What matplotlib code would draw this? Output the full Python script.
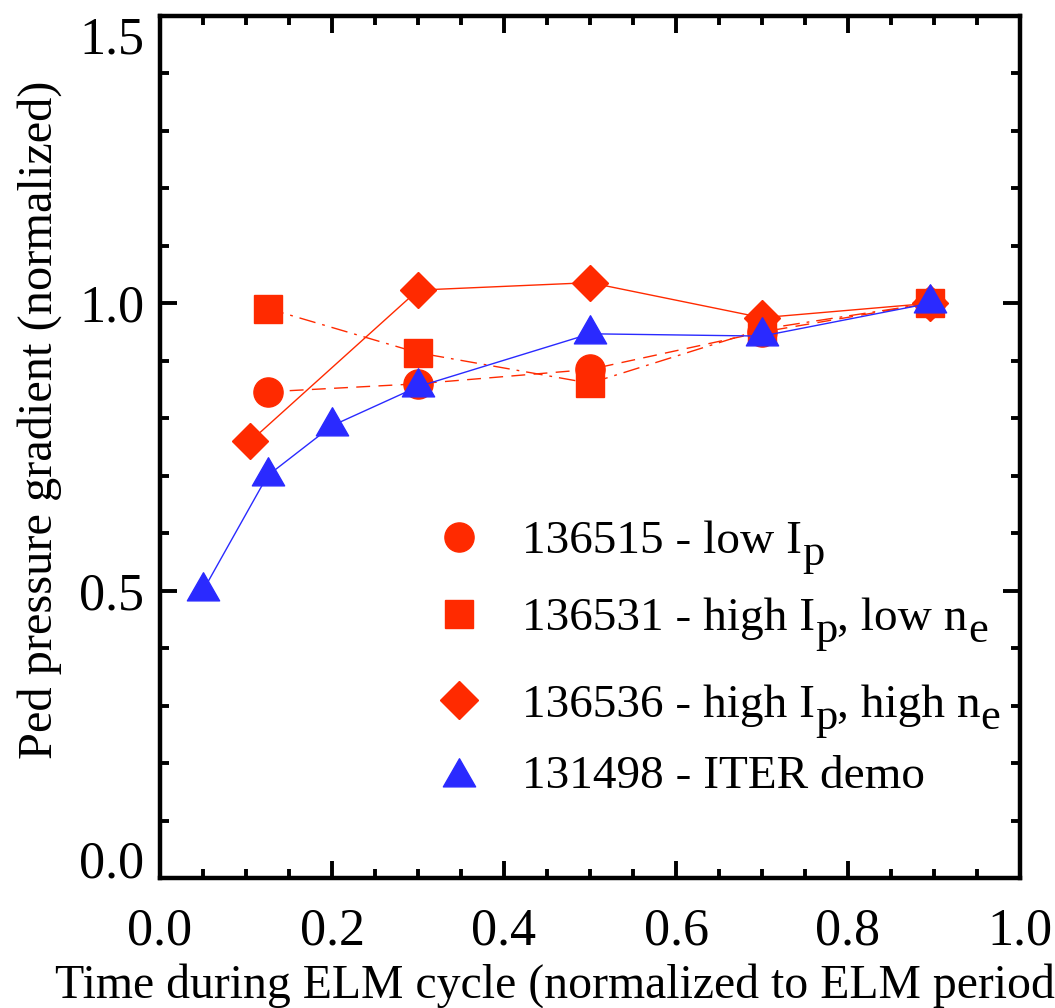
import matplotlib
matplotlib.use("Agg")
import matplotlib.pyplot as plt
from matplotlib.path import Path
from matplotlib.lines import Line2D
from matplotlib.ticker import MultipleLocator

plt.rcParams['font.family'] = ['Liberation Serif', 'DejaVu Serif']

# ---- data ----
x_515 = [0.125, 0.3, 0.5, 0.7, 0.895]
y_515 = [0.846, 0.860, 0.885, 0.950, 1.0]

x_531 = [0.125, 0.3, 0.5, 0.7, 0.895]
y_531 = [0.991, 0.914, 0.861, 0.955, 1.0]

x_536 = [0.105, 0.3, 0.5, 0.7, 0.895]
y_536 = [0.760, 1.023, 1.036, 0.975, 1.0]

x_498 = [0.05, 0.125, 0.2, 0.3, 0.5, 0.7, 0.895]
y_498 = [0.50, 0.70, 0.787, 0.855, 0.947, 0.943, 1.0]

# legend labels: (text, is_subscript) pieces
labels = [
    [("136515 - low I", False), ("p", True)],
    [("136531 - high I", False), ("p", True), (", low n", False), ("e", True)],
    [("136536 - high I", False), ("p", True), (", high n", False), ("e", True)],
    [("131498 - ITER demo", False)],
]

xticks = [0.0, 0.2, 0.4, 0.6, 0.8, 1.0]
yticks = [0.0, 0.5, 1.0, 1.5]
xlabel = "Time during ELM cycle (normalized to ELM period)"
ylabel = "Ped pressure gradient (normalized)"

RED = '#ff2a00'
BLUE = '#2a2aff'

# triangle marker centred on its centroid
tri = Path([(0, 2), (-1.72, -1), (1.72, -1), (0, 2)],
           [Path.MOVETO, Path.LINETO, Path.LINETO, Path.CLOSEPOLY])

W, H = 1055, 1008
fig = plt.figure(figsize=(W/100, H/100), dpi=100)
ax = fig.add_axes([160/W, 130/H, 860/W, 862/H])

ax.plot(x_515, y_515, color=RED, lw=1, ls=(0, (10, 6)), marker='o', ms=21,
        mec=RED, mfc=RED, zorder=3)
ax.plot(x_531, y_531, color=RED, lw=1, ls=(0, (12, 5, 2, 5)), marker='s', ms=19.5,
        mec=RED, mfc=RED, zorder=3)
ax.plot(x_536, y_536, color=RED, lw=1, ls='-', marker='D', ms=18.5,
        mec=RED, mfc=RED, zorder=3)
ax.plot(x_498, y_498, color=BLUE, lw=1, ls='-', marker=tri, ms=27,
        mec=BLUE, mfc=BLUE, zorder=4)

ax.set_xlim(0, 1.0)
ax.set_ylim(0, 1.5)
ax.set_xticks(xticks)
ax.set_yticks(yticks)
ax.set_xticklabels([f"{v:.1f}" for v in xticks])
ax.set_yticklabels([f"{v:.1f}" for v in yticks])
ax.xaxis.set_minor_locator(MultipleLocator(0.05))
ax.yaxis.set_minor_locator(MultipleLocator(0.1))
ax.tick_params(which='both', direction='in', top=True, right=True, width=2.8,
               labelsize=37.5)
ax.tick_params(which='major', length=12)
ax.tick_params(which='minor', length=6.5)
ax.tick_params(axis='y', pad=11.5)
ax.tick_params(axis='x', pad=21)
for s in ax.spines.values():
    s.set_linewidth(3.2)

# end labels of the y axis kept inside the frame, as in the reference
ylabs = ax.yaxis.get_major_ticks()
ylabs[0].label1.set_va('baseline')
ylabs[-1].label1.set_va('top')

# legend (manual), positions in pixels
leg_my = [537, 614, 700, 777]
leg_base = [553, 630, 717, 788]
leg_m = ['o', 's', 'D', tri]
leg_ms = [21, 19.5, 19, 27]
leg_c = [RED, RED, RED, BLUE]
renderer = fig.canvas.get_renderer()
for my, base, m, msz, c, pieces in zip(leg_my, leg_base, leg_m, leg_ms, leg_c, labels):
    fig.lines.append(Line2D([459/W], [1 - my/H], transform=fig.transFigure,
                            marker=m, ms=msz, color=c, ls='none'))
    xpx = 522
    for txt, sub in pieces:
        yb = base + (12 if sub else 0)
        t = fig.text(xpx/W, 1 - yb/H, txt, fontsize=32 if sub else 34,
                     va='baseline', ha='left')
        bb = t.get_window_extent(renderer)
        xpx = bb.x1

fig.text(55/W, 1 - 998/H, xlabel, fontsize=34.4, ha='left', va='baseline')
fig.text(40/W, 1 - 420/H, ylabel, fontsize=34.8, rotation=90,
         ha='center', va='center')

fig.savefig("out.png", dpi=100)
